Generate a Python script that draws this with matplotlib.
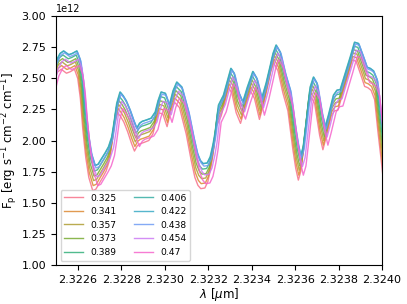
import numpy as np
import matplotlib
matplotlib.use("Agg")
import matplotlib.pyplot as plt
import seaborn as sns

# top envelope spectrum (phase 0.406)
wl = [2.322482, 2.322500, 2.322518, 2.322534, 2.322558, 2.322574, 2.322595,
      2.322610, 2.322622, 2.322633, 2.322647, 2.322661, 2.322679, 2.322693,
      2.322707, 2.322725, 2.322741, 2.322756, 2.322767, 2.322779, 2.322794,
      2.322808, 2.322822, 2.322840, 2.322857, 2.322871, 2.322884, 2.322896,
      2.322914, 2.322937, 2.322956, 2.322969, 2.322983, 2.323002, 2.323021,
      2.323038, 2.323055, 2.323078, 2.323109, 2.323132, 2.323149, 2.323163,
      2.323176, 2.323195, 2.323209, 2.323222, 2.323232, 2.323247, 2.323270,
      2.323285, 2.323304, 2.323319, 2.323339, 2.323359, 2.323380, 2.323405,
      2.323423, 2.323446, 2.323466, 2.323485, 2.323498, 2.323512, 2.323531,
      2.323554, 2.323577, 2.323600, 2.323613, 2.323625, 2.323637, 2.323646,
      2.323669, 2.323684, 2.323700, 2.323723, 2.323738, 2.323753, 2.323776,
      2.323792, 2.323807, 2.323830, 2.323853, 2.323873, 2.323891, 2.323914,
      2.323930, 2.323945, 2.323960, 2.323976, 2.323991, 2.324005, 2.324018]
flux_top = [2.52, 2.64, 2.70, 2.72, 2.69, 2.70, 2.72,
            2.65, 2.50, 2.27, 2.05, 1.90, 1.80, 1.81,
            1.85, 1.90, 1.95, 2.03, 2.15, 2.30, 2.39,
            2.36, 2.32, 2.245, 2.16, 2.10, 2.14, 2.155,
            2.165, 2.18, 2.23, 2.32, 2.39, 2.38, 2.285,
            2.40, 2.47, 2.43, 2.23, 2.03, 1.90, 1.84,
            1.815, 1.82, 1.87, 1.97, 2.07, 2.285, 2.365,
            2.46, 2.58, 2.54, 2.39, 2.31, 2.43, 2.555,
            2.50, 2.34, 2.46, 2.60, 2.70, 2.767, 2.71,
            2.54, 2.405, 2.11, 1.97, 1.88, 1.95, 2.08,
            2.43, 2.51, 2.46, 2.22, 2.11, 2.205, 2.365,
            2.405, 2.41, 2.54, 2.67, 2.79, 2.78, 2.67,
            2.59, 2.58, 2.56, 2.49, 2.25, 2.05, 1.85]

phases = ['0.325', '0.341', '0.357', '0.373', '0.389',
          '0.406', '0.422', '0.438', '0.454', '0.47']
# how far each phase sits below the top envelope (1 = deepest) and its wavelength shift
depth = [1.0, 0.8, 0.6, 0.42, 0.22, 0.0, 0.0, 0.1, 0.45, 0.8]
shift = [-10e-6, -8e-6, -6e-6, -4e-6, -2e-6, 0.0, 2e-6, 5e-6, 9e-6, 13e-6]

colors = sns.color_palette("husl", 10)

fig, ax = plt.subplots(figsize=(4.07, 3.04), dpi=100)
fig.subplots_adjust(left=0.1376, right=0.9386, top=0.947, bottom=0.128)

wl = np.array(wl)
ft = np.array(flux_top)
for i in range(len(phases)):
    f = ft - depth[i] * (0.31 - 0.06 * ft)
    ax.plot(wl + shift[i], f * 1e12, color=colors[i], lw=1, alpha=0.85, label=phases[i])

ax.set_xlim(2.3225, 2.3240)
ax.set_ylim(1e12, 3e12)
ax.set_xticks([2.3226, 2.3228, 2.3230, 2.3232, 2.3234, 2.3236, 2.3238, 2.3240])
ax.ticklabel_format(axis='x', useOffset=False)
ax.tick_params(labelsize=8)
ax.yaxis.get_offset_text().set_fontsize(7)
ax.set_xlabel(r'$\lambda$ [$\mu$m]', fontsize=8.5, labelpad=1)
ax.set_ylabel(r'F$_{\rm p}$ [erg s$^{-1}$ cm$^{-2}$ cm$^{-1}$]', fontsize=8.5, labelpad=1)
ax.legend(loc='lower left', ncol=2, fontsize=6.6)

plt.savefig('out.png', dpi=100)
